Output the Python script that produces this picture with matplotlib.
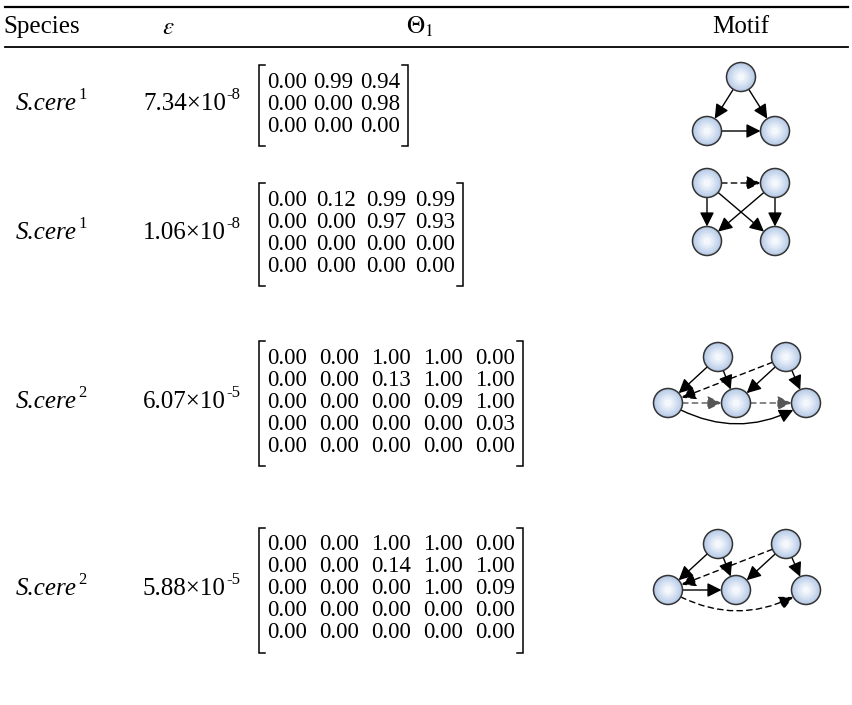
import matplotlib
matplotlib.use("Agg")
import matplotlib.pyplot as plt
from matplotlib.patches import Circle, FancyArrowPatch
import numpy as np

plt.rcParams['font.family'] = ['Liberation Serif', 'DejaVu Serif']
plt.rcParams['mathtext.fontset'] = 'stix'

# table data
headers = ["Species", r"$\varepsilon$", r"$\Theta_1$", "Motif"]
species = ["S.cere", "S.cere", "S.cere", "S.cere"]
species_sup = ["1", "1", "2", "2"]
eps_mantissa = ["7.34", "1.06", "6.07", "5.88"]
eps_exponent = ["-8", "-8", "-5", "-5"]

theta_a = [[0.00, 0.99, 0.94],
           [0.00, 0.00, 0.98],
           [0.00, 0.00, 0.00]]
theta_b = [[0.00, 0.12, 0.99, 0.99],
           [0.00, 0.00, 0.97, 0.93],
           [0.00, 0.00, 0.00, 0.00],
           [0.00, 0.00, 0.00, 0.00]]
theta_c = [[0.00, 0.00, 1.00, 1.00, 0.00],
           [0.00, 0.00, 0.13, 1.00, 1.00],
           [0.00, 0.00, 0.00, 0.09, 1.00],
           [0.00, 0.00, 0.00, 0.00, 0.03],
           [0.00, 0.00, 0.00, 0.00, 0.00]]
theta_d = [[0.00, 0.00, 1.00, 1.00, 0.00],
           [0.00, 0.00, 0.14, 1.00, 1.00],
           [0.00, 0.00, 0.00, 1.00, 0.09],
           [0.00, 0.00, 0.00, 0.00, 0.00],
           [0.00, 0.00, 0.00, 0.00, 0.00]]
thetas = [theta_a, theta_b, theta_c, theta_d]

# layout (pixels)
W, H = 853, 705
row_y = [104, 233, 402, 589]
line_h = 22
mat_x0 = 267
col_pitch = [46.5, 49.5, 52, 52]
fs = 16.5
fs_lab = 18
fs_sup = 12

# motif node layouts (pixels)
motif_nodes = [
    [(741, 77), (707, 131), (775, 131)],
    [(707, 183), (775, 183), (707, 241), (775, 241)],
    [(718, 357), (786, 357), (668, 403), (736, 403), (806, 403)],
    [(718, 544), (786, 544), (668, 590), (736, 590), (806, 590)],
]
curved_edges = [(2, 4)]
node_r = 14.5

fig = plt.figure(figsize=(W / 100, H / 100), dpi=100)
ax = fig.add_axes([0, 0, 1, 1])
ax.set_xlim(0, W)
ax.set_ylim(H, 0)
ax.axis('off')

fig.canvas.draw()
renderer = fig.canvas.get_renderer()


def text_with_sup(x, y, base, sup, ha='left', **kw):
    t = ax.text(x, y, base, ha=ha, va='center', fontsize=fs_lab, **kw)
    bb = t.get_window_extent(renderer)
    x_end = ax.transData.inverted().transform((bb.x1, bb.y0))[0]
    ax.text(x_end + 1, y - 9, sup, ha='left', va='center', fontsize=fs_sup)
    return t


# rules
ax.plot([5, 848], [7, 7], color='black', lw=1.6)
ax.plot([5, 848], [47, 47], color='black', lw=1.3)

# header
ax.text(42, 27, headers[0], ha='center', va='center', fontsize=18)
ax.text(168, 28, headers[1], ha='center', va='center', fontsize=18)
ax.text(420, 27, headers[2], ha='center', va='center', fontsize=18)
ax.text(741, 27, headers[3], ha='center', va='center', fontsize=18)

for k, y in enumerate(row_y):
    text_with_sup(16, y, species[k], species_sup[k], fontstyle='italic')
    text_with_sup(143, y, eps_mantissa[k] + "\u00d710", eps_exponent[k])

    mat = np.array(thetas[k])
    n = mat.shape[0]
    ys = y + (np.arange(n) - (n - 1) / 2) * line_h
    last = None
    for i in range(n):
        for j in range(n):
            last = ax.text(mat_x0 + j * col_pitch[k], ys[i], "%.2f" % mat[i, j],
                           ha='left', va='center', fontsize=fs)
    bb = last.get_window_extent(renderer)
    x_right = ax.transData.inverted().transform((bb.x1, bb.y0))[0] + 8
    top, bot = ys[0] - 17, ys[-1] + 20
    xl = mat_x0 - 8
    ax.plot([xl + 6, xl, xl, xl + 6], [top, top, bot, bot], color='black', lw=1.1,
            solid_joinstyle='miter')
    ax.plot([x_right - 6, x_right, x_right, x_right - 6], [top, top, bot, bot],
            color='black', lw=1.1, solid_joinstyle='miter')

    # motif: edges from Theta_1 (solid for strong, dashed for weak links)
    nodes = motif_nodes[k]
    for i in range(n):
        for j in range(n):
            w = mat[i, j]
            if w <= 0:
                continue
            dashed = w < 0.5
            rad = 0.3 if (n == 5 and (i, j) in curved_edges) else 0.0
            grey = dashed and rad == 0 and nodes[i][1] == nodes[j][1] and n == 5
            arr = FancyArrowPatch(nodes[i], nodes[j],
                                  connectionstyle="arc3,rad=%.2f" % rad,
                                  arrowstyle='-|>,head_length=0.9,head_width=0.45',
                                  mutation_scale=9.5, lw=1.0,
                                  linestyle=(0, (4, 3)) if dashed else '-',
                                  color='#555555' if grey else 'black',
                                  shrinkA=node_r * 0.72, shrinkB=node_r * 0.72, zorder=2)
            ax.add_patch(arr)
    shades = ['#b9cbe6', '#c5d5ec', '#d1def1', '#dde7f5', '#e8eff9', '#f4f7fc']
    for (cx, cy) in nodes:
        ax.add_patch(Circle((cx, cy), node_r, facecolor=shades[0], edgecolor='#333333',
                            lw=1.1, zorder=3))
        for s, c in enumerate(shades[1:]):
            rr = node_r * (0.85 - s * 0.15)
            ax.add_patch(Circle((cx, cy), rr, facecolor=c, edgecolor='none', zorder=3))

fig.savefig("out.png", dpi=100)
